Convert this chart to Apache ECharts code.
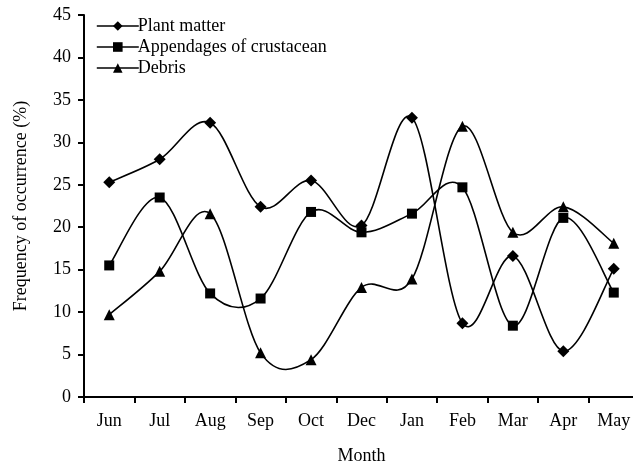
<!DOCTYPE html>
<html>
<head>
<meta charset="utf-8">
<script src="https://cdn.jsdelivr.net/npm/echarts@6/dist/echarts.min.js"></script>
<style>
  html, body { margin: 0; padding: 0; background: #fff; }
  #chart { width: 633px; height: 465px; }
</style>
</head>
<body>
<div id="chart"></div>
<script>
const months = ['Jun', 'Jul', 'Aug', 'Sep', 'Oct', 'Dec', 'Jan', 'Feb', 'Mar', 'Apr', 'May'];
const plantMatter = [25.3, 28.0, 32.3, 22.4, 25.5, 20.2, 32.9, 8.7, 16.6, 5.4, 15.1];
const appendages = [15.5, 23.5, 12.2, 11.6, 21.8, 19.4, 21.6, 24.7, 8.4, 21.1, 12.3];
const debris = [9.7, 14.8, 21.6, 5.2, 4.4, 12.9, 13.9, 31.9, 19.4, 22.4, 18.1];

const font = '"Liberation Serif", "Times New Roman", serif';
const black = '#000';

const chart = echarts.init(document.getElementById('chart'));

// markers + legend entry (the curve itself is drawn by the custom series below)
function markerSeries(name, data, symbol, size) {
  return {
    name,
    type: 'line',
    data,
    symbol,
    symbolSize: size,
    z: 3,
    lineStyle: { color: black, width: 1.6, opacity: 0 },
    itemStyle: { color: black },
    emphasis: { disabled: true }
  };
}

// Catmull-Rom style smoothing like the original spreadsheet chart
function curveSeries(name, values) {
  return {
    name,
    type: 'custom',
    z: 2,
    silent: true,
    data: values.map((v, i) => [i, v]),
    renderItem(params, api) {
      const i = params.dataIndex;
      const n = values.length;
      if (i >= n - 1) return null;
      const pt = k => {
        const j = Math.max(0, Math.min(n - 1, k));
        return api.coord([j, values[j]]);
      };
      const p0 = pt(i - 1), p1 = pt(i), p2 = pt(i + 1), p3 = pt(i + 2);
      return {
        type: 'bezierCurve',
        shape: {
          x1: p1[0], y1: p1[1],
          x2: p2[0], y2: p2[1],
          cpx1: p1[0] + (p2[0] - p0[0]) / 6,
          cpy1: p1[1] + (p2[1] - p0[1]) / 6,
          cpx2: p2[0] - (p3[0] - p1[0]) / 6,
          cpy2: p2[1] - (p3[1] - p1[1]) / 6
        },
        style: { stroke: black, fill: null, lineWidth: 1.6 }
      };
    }
  };
}

chart.setOption({
  animation: false,
  textStyle: { fontFamily: font },
  grid: { left: 84, top: 15, width: 555, height: 382, outerBoundsMode: 'none', containLabel: false },
  legend: {
    orient: 'vertical',
    left: 91,
    top: 12,
    itemWidth: 42,
    itemHeight: 12,
    itemGap: 3,
    lineStyle: { color: black, width: 1.6, opacity: 1 },
    textStyle: { fontFamily: font, fontSize: 18, color: black, padding: [0, 0, 0, -6] },
    data: ['Plant matter', 'Appendages of crustacean', 'Debris']
  },
  xAxis: {
    type: 'category',
    data: months,
    boundaryGap: true,
    name: 'Month',
    nameLocation: 'middle',
    nameGap: 50,
    nameTextStyle: { fontFamily: font, fontSize: 18, color: black },
    axisLine: { lineStyle: { color: black, width: 2 } },
    axisTick: { show: true, inside: false, length: 6, lineStyle: { color: black, width: 2 } },
    axisLabel: { fontFamily: font, fontSize: 18, color: black, margin: 15 }
  },
  yAxis: {
    type: 'value',
    min: 0,
    max: 45,
    interval: 5,
    name: 'Frequency of occurrence (%)',
    nameLocation: 'middle',
    nameGap: 54,
    nameTextStyle: { fontFamily: font, fontSize: 18, color: black },
    axisLine: { show: true, lineStyle: { color: black, width: 2 } },
    axisTick: { show: true, length: 6, lineStyle: { color: black, width: 2 } },
    axisLabel: { fontFamily: font, fontSize: 18, color: black, margin: 13 },
    splitLine: { show: false }
  },
  series: [
    curveSeries('plant-curve', plantMatter),
    curveSeries('appendage-curve', appendages),
    curveSeries('debris-curve', debris),
    markerSeries('Plant matter', plantMatter, 'diamond', 12),
    markerSeries('Appendages of crustacean', appendages, 'rect', 10),
    markerSeries('Debris', debris, 'triangle', 11)
  ]
});
</script>
</body>
</html>
